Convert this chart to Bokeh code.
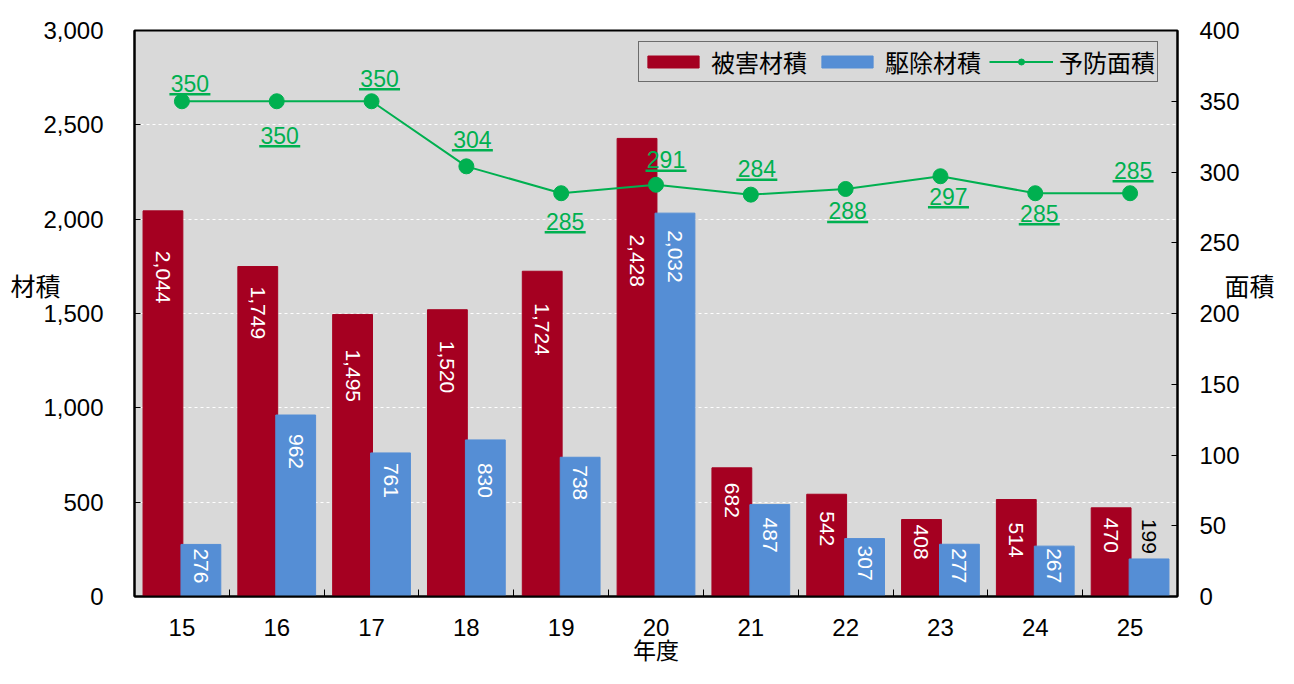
import numpy as np
from bokeh.plotting import figure
from bokeh.models import (Range1d, LinearAxis, FixedTicker, NumeralTickFormatter,
                          Legend, LegendItem, ColumnDataSource)
from bokeh.core.properties import value
from bokeh.embed import file_html
from bokeh.resources import INLINE

# ---- data ----
years = ["15", "16", "17", "18", "19", "20", "21", "22", "23", "24", "25"]
damage = [2044, 1749, 1495, 1520, 1724, 2428, 682, 542, 408, 514, 470]      # 被害材積
removal = [276, 962, 761, 830, 738, 2032, 487, 307, 277, 267, 199]          # 駆除材積
area = [350, 350, 350, 304, 285, 291, 284, 288, 297, 285, 285]              # 予防面積
left_ticks = [0, 500, 1000, 1500, 2000, 2500, 3000]
right_ticks = [0, 50, 100, 150, 200, 250, 300, 350, 400]

# ---- style (label placement, pixels) ----
dmg_lbl_off = [40, 20, 35, 31, 32, 96, 15, 17, 5, 23, 10]
rem_lbl_off = [4, 19, 10, 23, 8, 17, 13, 7, 4, 2, -5]
rem_inside = [True] * 10 + [False]
area_dx = [8, 3, 8, 6, 4, 10, 6, 2, 8, 4, 3]
area_dy = [-10, 42, -15, -19, 36, -17, -18, 30, 28, 28, -15]   # baseline vs point

RED = "#a50021"
BLUE = "#558ed5"
GREEN = "#00b050"
BG = "#d9d9d9"
NUMFONT = "Liberation Sans"
JPFONT = "Noto Sans CJK JP"

W, H = 1278, 668
FL, FR, FT, FB = 134, 1177, 30, 596
frame_w = FR - FL
frame_h = FB - FT
n = len(years)
px_per_cat = frame_w / n
px_per_area = frame_h / 400.0

p = figure(width=W, height=H, output_backend="svg", toolbar_location=None,
           x_range=Range1d(-0.5, n - 0.5), y_range=Range1d(0, 3000),
           min_border_left=FL, min_border_right=W - FR,
           min_border_top=FT, min_border_bottom=H - FB)
p.extra_y_ranges = {"area": Range1d(0, 400)}
p.background_fill_color = BG
p.border_fill_color = "white"
p.outline_line_color = "black"
p.outline_line_width = 2

idx = list(range(n))
src = ColumnDataSource(dict(
    x=idx, years=years, damage=damage, removal=removal, area=area,
    xd=[i - 0.2 for i in idx], xr=[i + 0.2 for i in idx],
    dmg_txt=[f"{v:,}" for v in damage], rem_txt=[f"{v:,}" for v in removal],
    dmg_off=dmg_lbl_off, rem_off=rem_lbl_off,
))

r_red = p.vbar(x="xd", top="damage", width=0.42, bottom=0, source=src,
               fill_color=RED, line_color=RED)
r_blue = p.vbar(x="xr", top="removal", width=0.42, bottom=0, source=src,
                fill_color=BLUE, line_color=BLUE)

# bar labels (rotated)
p.text(x="xd", y="damage", text="dmg_txt", y_offset="dmg_off", source=src,
       angle=-np.pi / 2, text_align="left", text_baseline="middle",
       text_color="white", text_font=value(NUMFONT), text_font_size="21px")
in_src = ColumnDataSource(dict(
    x=[src.data["xr"][i] for i in idx if rem_inside[i]],
    y=[removal[i] for i in idx if rem_inside[i]],
    t=[src.data["rem_txt"][i] for i in idx if rem_inside[i]],
    o=[rem_lbl_off[i] for i in idx if rem_inside[i]],
))
p.text(x="x", y="y", text="t", y_offset="o", source=in_src,
       angle=-np.pi / 2, text_align="left", text_baseline="middle",
       text_color="white", text_font=value(NUMFONT), text_font_size="21px")
out_src = ColumnDataSource(dict(
    x=[src.data["xr"][i] for i in idx if not rem_inside[i]],
    y=[removal[i] for i in idx if not rem_inside[i]],
    t=[src.data["rem_txt"][i] for i in idx if not rem_inside[i]],
    o=[rem_lbl_off[i] for i in idx if not rem_inside[i]],
))
p.text(x="x", y="y", text="t", y_offset="o", source=out_src,
       angle=-np.pi / 2, text_align="right", text_baseline="middle",
       text_color="black", text_font=value(NUMFONT), text_font_size="21px")

# line
r_line = p.line(x="x", y="area", source=src, y_range_name="area",
                line_color=GREEN, line_width=2)
r_pts = p.scatter(x="x", y="area", source=src, y_range_name="area",
                  size=15, fill_color=GREEN, line_color=GREEN)

lab_src = ColumnDataSource(dict(
    x=[i + area_dx[i] / px_per_cat for i in idx],
    y=[area[i] - (area_dy[i] - 8) / px_per_area for i in idx],
    uy=[area[i] - (area_dy[i] + 3) / px_per_area for i in idx],
    t=[str(v) for v in area],
))
p.text(x="x", y="y", text="t", source=lab_src, y_range_name="area",
       text_align="center", text_baseline="middle", text_color=GREEN,
       text_font=value(NUMFONT), text_font_size="23px")
p.rect(x="x", y="uy", width=41, height=2.5, width_units="screen",
       height_units="screen", source=lab_src, y_range_name="area",
       fill_color=GREEN, line_color=None)

# axes
xa = p.xaxis[0]
xa.ticker = FixedTicker(ticks=idx, minor_ticks=[i - 0.5 for i in range(n + 1)])
xa.major_label_overrides = {i: years[i] for i in idx}
xa.major_tick_line_color = None
xa.minor_tick_in = 7
xa.minor_tick_out = 0
xa.minor_tick_line_color = "black"
xa.axis_line_color = "black"
xa.axis_line_width = 2
xa.major_label_text_font = NUMFONT
xa.major_label_text_font_size = "24px"
xa.major_label_text_color = "black"
xa.major_label_standoff = 16
xa.axis_label = "年度"
xa.axis_label_text_font = JPFONT
xa.axis_label_text_font_size = "23px"
xa.axis_label_text_font_style = "normal"
xa.axis_label_text_color = "black"
xa.axis_label_standoff = -7

ya = p.yaxis[0]
ya.ticker = FixedTicker(ticks=left_ticks)
ya.formatter = NumeralTickFormatter(format="0,0")
ya.major_tick_in = 6
ya.major_tick_out = 0
ya.minor_tick_line_color = None
ya.axis_line_width = 2
ya.major_label_text_font = NUMFONT
ya.major_label_text_font_size = "24px"
ya.major_label_text_color = "black"
ya.major_label_standoff = 31

ra = LinearAxis(y_range_name="area", ticker=FixedTicker(ticks=right_ticks))
ra.major_tick_in = 6
ra.major_tick_out = 0
ra.minor_tick_line_color = None
ra.axis_line_width = 2
ra.major_label_text_font = NUMFONT
ra.major_label_text_font_size = "24px"
ra.major_label_text_color = "black"
ra.major_label_standoff = 22
p.add_layout(ra, "right")

# axis titles placed as single tick labels of helper axes (not clipped)
def title_axis(tick, text, standoff, range_name="default"):
    ax = LinearAxis(y_range_name=range_name, ticker=FixedTicker(ticks=[tick]))
    ax.major_label_overrides = {tick: text}
    ax.axis_line_color = None
    ax.major_tick_line_color = None
    ax.minor_tick_line_color = None
    ax.major_label_text_font = JPFONT
    ax.major_label_text_font_size = "25px"
    ax.major_label_text_color = "black"
    ax.major_label_standoff = standoff
    return ax

p.add_layout(title_axis(1650, "材積", -26), "left")
p.add_layout(title_axis(1650, "面積", -24), "right")

p.xgrid.grid_line_color = None
p.ygrid.ticker = FixedTicker(ticks=left_ticks)
p.ygrid.grid_line_color = "white"
p.ygrid.grid_line_dash = "3 3"
p.ygrid.grid_line_width = 1

legend = Legend(items=[
    LegendItem(label="被害材積", renderers=[r_red]),
    LegendItem(label="駆除材積", renderers=[r_blue]),
    LegendItem(label="予防面積", renderers=[r_line, r_pts]),
], orientation="horizontal", location=(504, 514))
legend.label_text_font = JPFONT
legend.label_text_font_size = "24px"
legend.label_text_color = "black"
legend.background_fill_color = BG
legend.background_fill_alpha = 1
legend.border_line_color = "black"
legend.border_line_width = 1
legend.glyph_width = 64
legend.glyph_height = 15
legend.label_standoff = 6
legend.spacing = 8
legend.padding = 2
legend.margin = 0
p.add_layout(legend, "center")

open("out.html", "w").write(file_html(p, INLINE))
